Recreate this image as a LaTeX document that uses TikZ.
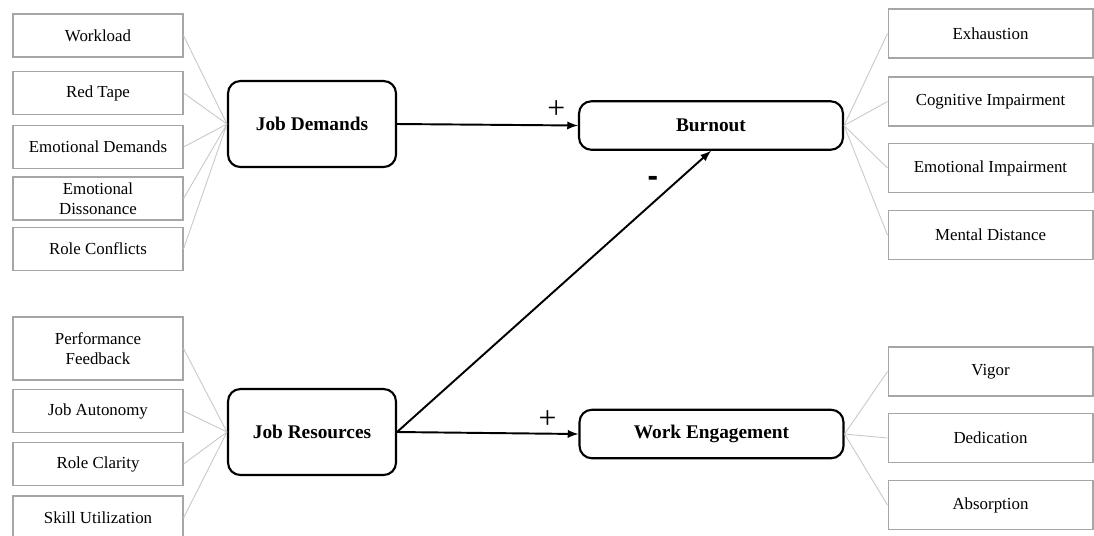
\documentclass[tikz,border=0pt]{standalone}
\usepackage{fontspec}
\setmainfont{Liberation Serif}
\setsansfont{Liberation Sans}
\usepackage{tikz}
\usetikzlibrary{arrows}
\definecolor{boxgray}{HTML}{A6A6A6}
\definecolor{linegray}{HTML}{C8C8C8}
\newcommand{\sign}[1]{\fontsize{18}{18}\selectfont #1}

\begin{document}
\begin{tikzpicture}[x=0.02cm, y=-0.02cm, >=latex,
    factor/.style={draw=boxgray, line width=0.6pt, inner sep=0pt, align=center,
        minimum width=3.4cm, minimum height=0.86cm, font=\fontsize{9.6}{11.5}\selectfont},
    outcome/.style={factor, minimum width=4.1cm, minimum height=0.98cm},
    construct/.style={draw, rounded corners=7pt, line width=1.2pt, inner sep=0pt,
        minimum width=3.36cm, minimum height=1.72cm, font=\fontsize{11}{13}\selectfont\bfseries},
    wide/.style={construct, minimum width=5.28cm, minimum height=0.97cm},
    link/.style={draw=linegray, line width=0.5pt},
    effect/.style={->, line width=1.1pt}]
    \useasboundingbox (0,0) rectangle (1094,535);
    % Demands
    \node[factor](work)                             at (98,35.5)   {Workload};
    \node[factor](tape)                             at (98,93)     {Red Tape};
    \node[factor](emod)                             at (98,147)    {Emotional Demands};
    \node[factor](emodis)                           at (98,198.5)  {Emotional\\Dissonance};
    \node[factor](role)                             at (98,249)    {Role Conflicts};
    % Resources
    \node[factor, minimum height=1.26cm](feed)      at (98,348.5)  {Performance\\Feedback};
    \node[factor](auto)                             at (98,411)    {Job Autonomy};
    \node[factor](clar)                             at (98,464)    {Role Clarity};
    \node[factor, minimum height=0.88cm](skill)     at (98,518)    {Skill Utilization};
    % Main constructs
    \node[construct](jd)                            at (312,124)   {Job Demands};
    \node[construct](jr)                            at (312,432)   {Job Resources};
    \node[wide](burn)                               at (711,125.5) {Burnout};
    \node[wide](eng)                                at (711.5,434) {Work Engagement};
    % Outcomes
    \node[outcome](exh)                             at (990.5,33.5) {Exhaustion};
    \node[outcome](cog)                             at (990.5,101.5){Cognitive Impairment};
    \node[outcome](emoi)                            at (990.5,168)  {Emotional Impairment};
    \node[outcome](ment)                            at (990.5,235)  {Mental Distance};
    \node[outcome](vig)                             at (990.5,371.5){Vigor};
    \node[outcome](ded)                             at (990.5,438)  {Dedication};
    \node[outcome](abs)                             at (990.5,505)  {Absorption};
    % Indicators
    \path[link]
        (work.east) -- (jd.west)
        (tape.east) -- (jd.west)
        (emod.east) -- (jd.west)
        (emodis.east) -- (jd.west)
        (role.east) -- (jd.west)
        (feed.east) -- (jr.west)
        (auto.east) -- (jr.west)
        (clar.east) -- (jr.west)
        (skill.east) -- (jr.west)
        (burn.east) -- (exh.west)
        (burn.east) -- (cog.west)
        (burn.east) -- (emoi.west)
        (burn.east) -- (ment.west)
        (eng.east) -- (vig.west)
        (eng.east) -- (ded.west)
        (eng.east) -- (abs.west);
    % Effects
    \path
        (jd.east)
            edge [effect] node[pos=0.88, above=0pt] {\sign{+}} (burn.west)
        (jr.east)
            edge [effect] (burn.south)
            edge [effect] node[pos=0.83, above=-1pt] {\sign{+}} (eng.west)
        ;
    \node(minus) at (653,181) {\sign{\sffamily\bfseries -}};
\end{tikzpicture}
\end{document}
